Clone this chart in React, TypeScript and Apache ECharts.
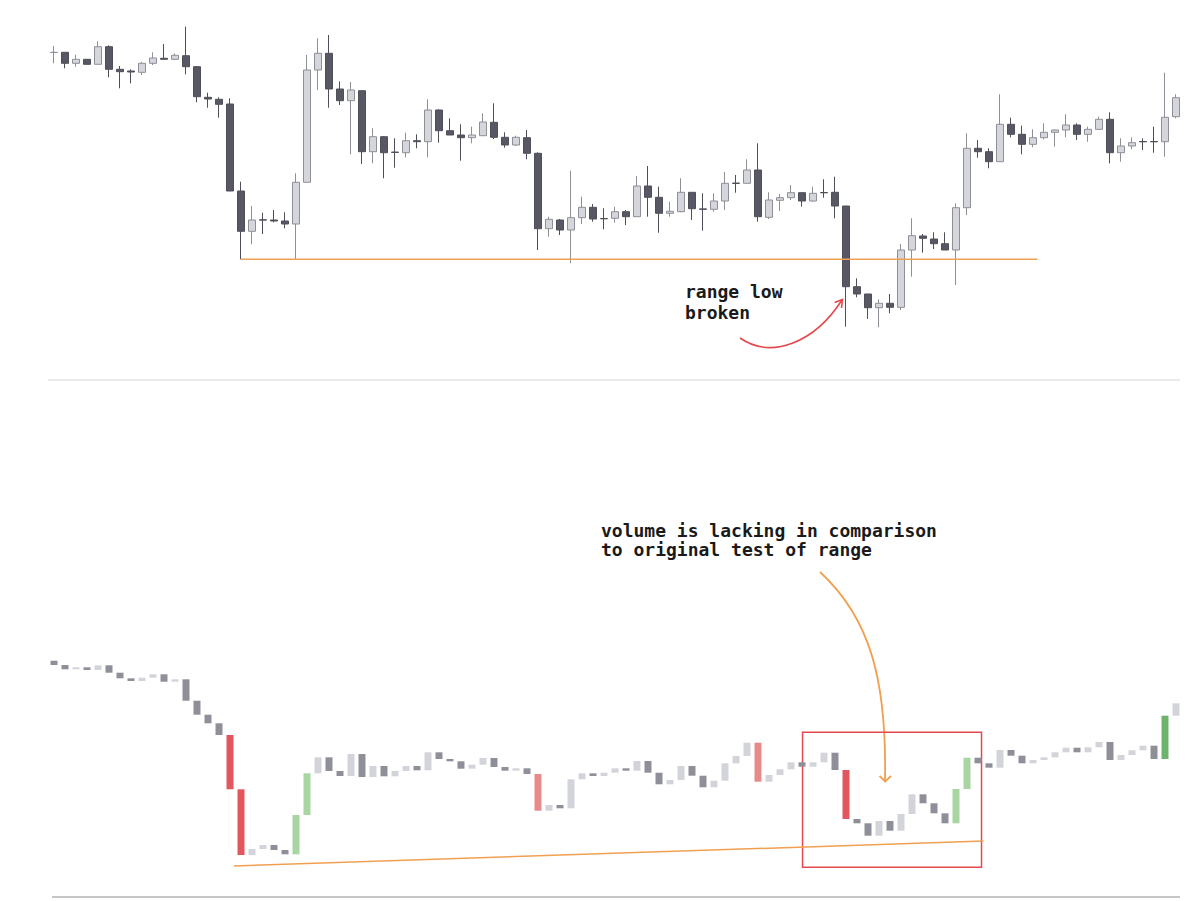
import React, { useEffect, useRef } from "react";
import * as echarts from "echarts";

// Price candles: [open, close, low, high]
const ohlc: number[][] = [
  [347.5, 347.7, 336.7, 354], [347.7, 336.7, 331.7, 348], [336.7, 340.7, 333.3, 345.3], [340.7, 335.7, 335, 341],
  [335.7, 353.3, 335.7, 358.7], [353.3, 330.7, 322.7, 354.7], [330.7, 328.3, 311.7, 334], [329, 328, 316.7, 330.7],
  [327.7, 336.7, 325, 338.3], [336.7, 342, 335, 347.7], [341.7, 340.7, 340.7, 356], [340.7, 344.7, 340, 346.7],
  [344.3, 333.3, 325.7, 373.3], [333.3, 303.3, 297.7, 334], [302.7, 301, 292.3, 307.3], [300.7, 295.7, 282.3, 302.7],
  [296, 209, 209, 301.7], [209, 168.7, 140.7, 218.3], [168.7, 180, 155.7, 194], [180.2, 179.9, 166, 187.3],
  [180, 179, 177.7, 190], [179, 176, 171.7, 187.7], [176, 217.7, 140.7, 226.7], [217.7, 330, 217.7, 345],
  [330, 346.7, 310, 361.7], [346.7, 311, 292.3, 365], [311, 299.3, 295, 318.7], [299.3, 310, 245.7, 318],
  [309.3, 248.3, 236, 310], [248.3, 263.3, 236.7, 271.7], [263.3, 247.3, 221.7, 264], [247.9, 247.6, 232.3, 261.7],
  [247.3, 259.3, 242.7, 267.3], [259.3, 258.3, 251.7, 265.7], [258.3, 290, 242.7, 300.7], [290, 269.3, 257.3, 290.7],
  [269.3, 265, 265, 281.7], [265, 262.3, 239.3, 275.7], [262.3, 265, 256.7, 273.3], [264.3, 278, 264.3, 286.7],
  [277.7, 262.7, 261, 296.7], [262.7, 255, 252.3, 267.7], [255, 262.7, 254, 264.3], [262.3, 246.7, 240.7, 270],
  [246.7, 171.3, 150, 247.7], [171.3, 180.7, 163.3, 183.3], [180, 170, 165, 181], [170, 182.3, 136.7, 229.3],
  [182.3, 192.7, 176, 203.3], [192.7, 181, 178.3, 196], [181.5, 181.2, 170.7, 191.7], [181.7, 188.3, 177.3, 193.3],
  [188.3, 183.3, 175, 190], [183.3, 214, 183.3, 224], [214, 202.7, 183.3, 234], [202.7, 186.7, 167.3, 213.3],
  [186.7, 188.7, 183.3, 198.3], [188.3, 207.7, 187.7, 221.7], [207.7, 191.3, 180, 207.7], [191.1, 190.7, 169.3, 206.7],
  [190.7, 199, 188.3, 206.7], [199, 216.7, 190, 228], [216.9, 216.6, 207.3, 225], [216.7, 230, 216.7, 240.7],
  [230, 183.3, 178.3, 256.7], [182.7, 200, 181, 207.7], [199.7, 202.3, 189, 206], [202.3, 207.3, 200, 215],
  [207.3, 199, 193.3, 207.3], [199, 206.7, 198.3, 213.3], [207.5, 207.2, 202.3, 220.7], [207.7, 194, 181.7, 223.3],
  [194, 113.3, 73.3, 194], [113.3, 106, 102.7, 121.7], [106, 92.3, 81, 106], [92.3, 96.7, 72.7, 100.7],
  [96.7, 92.7, 86.7, 106], [92.7, 150, 90, 156], [150, 164.3, 123.3, 181.7], [164, 161.7, 147.3, 166],
  [161, 156.3, 151, 167.7], [156.3, 150, 150, 167.7], [150, 192.3, 115, 196.7], [192.3, 251.7, 185, 266.7],
  [251.7, 248.3, 242.3, 260], [248.3, 238.3, 231.7, 251.7], [238.3, 275.7, 238.3, 305.7], [275.7, 265.7, 262.7, 282.3],
  [265.7, 255.7, 245.7, 274.3], [255.7, 262.3, 252.7, 270.7], [262.3, 267.7, 260.7, 276.7], [267.7, 270, 253.3, 270.7],
  [270, 275, 262.7, 285.7], [275, 265.7, 260, 276.7], [265.7, 270.7, 258.3, 273.3], [270.7, 280.7, 270, 283.3],
  [280.7, 247.3, 236.7, 287.7], [247.3, 254, 238.3, 261.7], [254, 257.3, 250.7, 262.7], [258.5, 258.2, 250, 261.7],
  [258.5, 258.2, 247.3, 273.3], [258.3, 282.7, 243.3, 327.3], [283.3, 302.3, 281.7, 305.7],
];

// Cumulative volume delta: level before the first bar, then the level after each bar
const deltaStart = 239.3;
const deltaLevels: number[] = [
  235, 230.7, 232.7, 230, 234.7, 227.3, 221.7, 219, 222.3, 225.7,
  218.3, 220.7, 199.3, 185.3, 176.7, 165, 110.7, 45, 51, 55,
  50, 45.7, 85, 126.7, 142.7, 129, 124, 146, 123, 134,
  123.7, 129, 134, 129.7, 147.7, 141, 138.7, 131.3, 135.3, 142,
  133, 129.3, 131.7, 126, 89.3, 95, 91.7, 120.7, 126.7, 124,
  127.3, 131.7, 129.3, 139, 127.3, 115.7, 120, 134, 124.3, 112.7,
  119.3, 136.7, 144, 157.3, 118.3, 125, 130.7, 137.7, 133.3, 137.7,
  147.3, 130, 81, 76.7, 64.3, 79, 69.3, 86, 105.7, 96.7,
  86.7, 76.7, 111, 142.3, 136.7, 132.3, 150, 144.3, 136.7, 140,
  142.7, 147.7, 152.3, 147.7, 152.7, 158, 140, 145, 149.7, 154.3,
  141, 184.3, 196.7,
];

// Highlighted volume bars (indexes into deltaLevels)
const heavySelling = [16, 17, 72];
const lightSelling = [44, 64];
const heavyBuying = [22, 23, 82, 83];
const breakoutBuying = [101];

// Annotated levels
const rangeLow = 140.7;
const rangeLowSpan = [17, 89.4];
const volumeTrend = [[16.36, 34], [84.5, 59]];
const retestBox = [[68.05, 167.7], [84.32, 32.7]];

const candleCount = ohlc.length;
const categories = ohlc.map((_, i) => String(i + 1));

const C = {
  bearFill: "#575864",
  bearBorder: "#4e4f59",
  bullFill: "#d5d6dc",
  bullBorder: "#8e8f97",
  volDown: "#8e8f98",
  volUp: "#d3d4da",
  sellHeavy: "#e2575d",
  sellLight: "#e98a8a",
  buyHeavy: "#a7d6a3",
  buyBreak: "#6cb46c",
  orange: "#f0a050",
  red: "#e5484d",
};

function volumeColor(i: number, up: boolean): string {
  if (heavySelling.includes(i)) return C.sellHeavy;
  if (lightSelling.includes(i)) return C.sellLight;
  if (heavyBuying.includes(i)) return C.buyHeavy;
  if (breakoutBuying.includes(i)) return C.buyBreak;
  return up ? C.volUp : C.volDown;
}

const volumeBars = deltaLevels.map((end, i) => {
  const start = i === 0 ? deltaStart : deltaLevels[i - 1];
  const col = volumeColor(i, end > start);
  return {
    value: [start, end, Math.min(start, end), Math.max(start, end)],
    itemStyle: { color: col, color0: col, borderColor: col, borderColor0: col, borderWidth: 0 },
  };
});

const GRID_LEFT = 48.5;
const GRID_WIDTH = 1133;

export default function App() {
  const ref = useRef<HTMLDivElement>(null);

  useEffect(() => {
    if (!ref.current) return;
    const chart = echarts.init(ref.current, undefined, { renderer: "svg" });
    const mono = "'DejaVu Sans Mono', monospace";
    chart.setOption({
      animation: false,
      backgroundColor: "#ffffff",
      grid: [
        { left: GRID_LEFT, width: GRID_WIDTH, top: 20, height: 340 },
        { left: GRID_LEFT, width: GRID_WIDTH, top: 640, height: 240 },
      ],
      xAxis: [
        { type: "category", gridIndex: 0, data: categories, show: false },
        { type: "value", gridIndex: 0, min: -0.5, max: candleCount - 0.5, show: false },
        { type: "category", gridIndex: 1, data: categories, show: false },
        { type: "value", gridIndex: 1, min: -0.5, max: candleCount - 0.5, show: false },
      ],
      yAxis: [
        { type: "value", gridIndex: 0, min: 40, max: 380, show: false },
        { type: "value", gridIndex: 1, min: 20, max: 260, show: false },
      ],
      series: [
        {
          name: "price",
          type: "candlestick",
          xAxisIndex: 0,
          yAxisIndex: 0,
          barWidth: 8,
          data: ohlc,
          itemStyle: {
            color: C.bullFill,
            color0: C.bearFill,
            borderColor: C.bullBorder,
            borderColor0: C.bearBorder,
            borderWidth: 1,
          },
        },
        {
          name: "range low",
          type: "line",
          xAxisIndex: 1,
          yAxisIndex: 0,
          symbol: "none",
          data: rangeLowSpan.map((x) => [x, rangeLow]),
          lineStyle: { color: C.orange, width: 1.5 },
        },
        {
          name: "volume delta",
          type: "candlestick",
          xAxisIndex: 2,
          yAxisIndex: 1,
          barWidth: 8,
          data: volumeBars,
        },
        {
          name: "volume trend",
          type: "line",
          xAxisIndex: 3,
          yAxisIndex: 1,
          symbol: "none",
          data: volumeTrend,
          lineStyle: { color: C.orange, width: 1.5 },
          markArea: {
            silent: true,
            itemStyle: { color: "rgba(0,0,0,0)", borderColor: C.red, borderWidth: 1.5 },
            data: [[{ coord: retestBox[0] }, { coord: retestBox[1] }]],
          },
        },
      ],
      graphic: [
        { type: "line", shape: { x1: 48, y1: 380, x2: 1180, y2: 380 }, style: { stroke: "#e3e3e3", lineWidth: 1.5 } },
        { type: "line", shape: { x1: 52, y1: 897, x2: 1180, y2: 897 }, style: { stroke: "#8c8c8c", lineWidth: 1 } },
        {
          type: "text",
          left: 685,
          top: 281,
          style: {
            text: "range low\nbroken",
            font: `bold 18px ${mono}`,
            lineHeight: 21,
            fill: "#1a1a1a",
          },
        },
        {
          type: "bezierCurve",
          shape: { x1: 740, y1: 338, cpx1: 772, cpy1: 360, cpx2: 815, cpy2: 342, x2: 842, y2: 300 },
          style: { stroke: C.red, lineWidth: 1.6, fill: "none" },
        },
        {
          type: "polyline",
          shape: { points: [[834.5, 302.5], [842.5, 299.5], [841.5, 308]] },
          style: { stroke: C.red, lineWidth: 1.6, fill: "none" },
        },
        {
          type: "text",
          left: 601,
          top: 521,
          style: {
            text: "volume is lacking in comparison\nto original test of range",
            font: `bold 18px ${mono}`,
            lineHeight: 19,
            fill: "#1a1a1a",
          },
        },
        {
          type: "bezierCurve",
          shape: { x1: 820, y1: 572, cpx1: 870, cpy1: 618, cpx2: 887, cpy2: 680, x2: 885, y2: 781 },
          style: { stroke: C.orange, lineWidth: 1.8, fill: "none" },
        },
        {
          type: "polyline",
          shape: { points: [[879.5, 776], [885.2, 781.5], [891, 776]] },
          style: { stroke: C.orange, lineWidth: 1.8, fill: "none" },
        },
      ],
    });
    return () => chart.dispose();
  }, []);

  return (
    <div
      ref={ref}
      style={{ position: "fixed", left: 0, top: 0, width: 1200, height: 901, background: "#fff" }}
    />
  );
}
